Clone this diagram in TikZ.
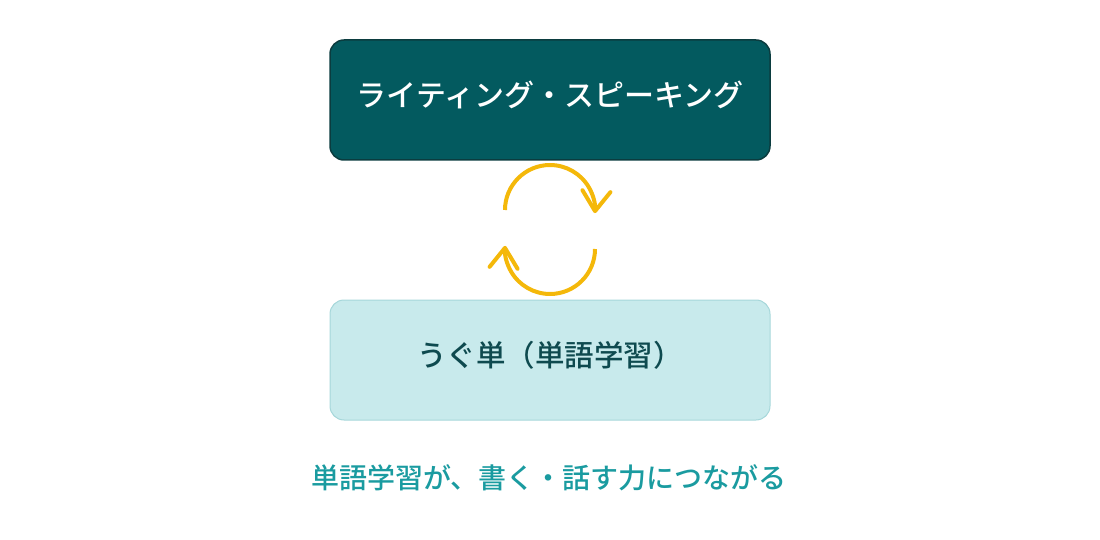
\documentclass[tikz,border=0pt]{standalone}
\usepackage{fontspec}
\newfontfamily\jpfont{Noto Sans CJK JP}[UprightFont=* Medium]
\usepackage{xcolor}
\usepackage{tikz}
\usetikzlibrary{arrows.meta}

\definecolor{deepteal}{HTML}{035A5F}
\definecolor{deeptealline}{HTML}{0B3C3F}
\definecolor{paleteal}{HTML}{C8EAEC}
\definecolor{paletealline}{HTML}{A6D7DA}
\definecolor{inkteal}{HTML}{0E4A4F}
\definecolor{captionteal}{HTML}{1A9BA0}
\definecolor{cycleyellow}{HTML}{F4B80A}

\tikzset{
  skillbox/.style={draw=deeptealline, line width=1.5pt, fill=deepteal,
    rounded corners=14pt, minimum width=440pt, minimum height=120pt,
    text depth=12pt, text=white, font=\jpfont\fontsize{30pt}{34pt}\selectfont},
  vocabbox/.style={draw=paletealline, line width=1pt, fill=paleteal,
    rounded corners=14pt, minimum width=440pt, minimum height=120pt,
    text depth=12pt, text=inkteal, font=\jpfont\fontsize{29.5pt}{34pt}\selectfont},
  cyclearc/.style={draw=cycleyellow, line width=4pt,
    -{Straight Barb[length=20pt,width=28pt,line cap=round,line join=round]}}
}

\begin{document}
\begin{tikzpicture}[x=1pt,y=-1pt]
\useasboundingbox (0,0) rectangle (1100,540);

\node [skillbox] (skills) at (550,100) {ライティング・スピーキング};
\node [vocabbox] (vocab) at (550,360) {うぐ単（単語学習）};
\node [text=captionteal, font=\jpfont\fontsize{28pt}{32pt}\selectfont]
    (caption) at (549,478) {単語学習が、書く・話す力につながる};

% turning arrows between the boxes
\coordinate (upstart) at (505,210);
\coordinate (lowstart) at (595,249);
\draw [cyclearc] (upstart) arc [start angle=180, end angle=-4, radius=45pt];
\draw [cyclearc] (lowstart) arc [start angle=0, end angle=-184, radius=45pt];
\end{tikzpicture}
\end{document}
